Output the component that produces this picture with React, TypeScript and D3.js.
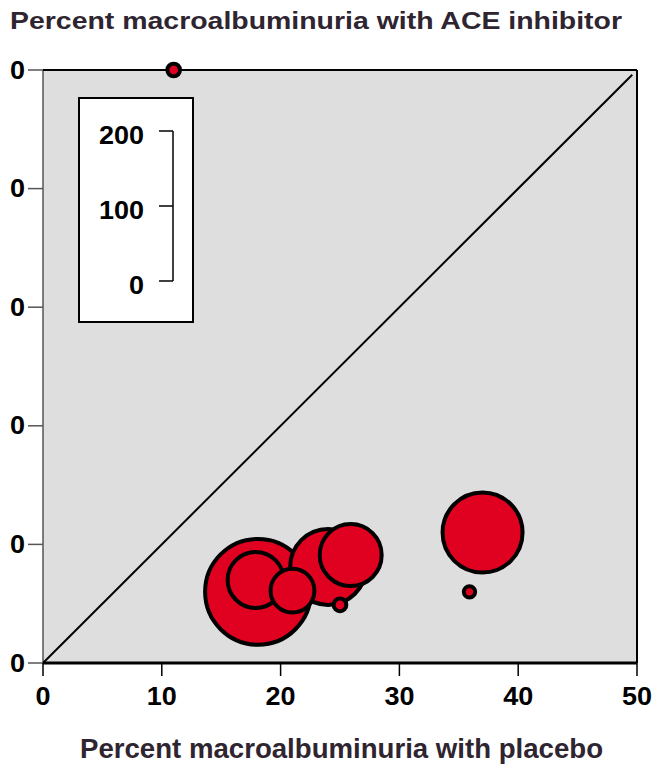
import React from "react";
import * as d3 from "d3";

const studyX = [11.0, 18.1, 24.0, 17.9, 21.0, 25.9, 25.0, 37.0, 35.9];
const studyY = [50.0, 6.0, 8.1, 7.0, 6.1, 9.1, 4.9, 11.0, 6.0];
const studyN = [5, 350, 180, 98, 60, 120, 5, 200, 4];
const xTicks = [0, 10, 20, 30, 40, 50];
const yTicks = [0, 10, 20, 30, 40, 50];
const yTickLabels = ["0", "0", "0", "0", "0", "0"];
const legendTicks = [0, 100, 200];
const title = "Percent macroalbuminuria with ACE inhibitor";
const xTitle = "Percent macroalbuminuria with placebo";

const W = 655;
const H = 764;
const left = 43, right = 637, top = 70, bottom = 663;
const FONT = "'Liberation Sans', Arial, sans-serif";
const RED = "#e0001f";
const CHAR_W = 15;

export default function App() {
  const x = d3.scaleLinear().domain([0, 50]).range([left, right]);
  const y = d3.scaleLinear().domain([0, 50]).range([bottom, top]);
  const r = d3.scaleSqrt().domain([0, 200]).range([0, 40]);
  const ly = d3.scaleLinear().domain([0, 200]).range([281, 131]);
  const pts = studyX.map((v, i) => ({ x: v, y: studyY[i], n: studyN[i] }));

  return (
    <svg width={W} height={H} style={{ position: "absolute", left: 0, top: 0 }} fontFamily={FONT}>
      <rect x={0} y={0} width={W} height={H} fill="#fff" />
      <text x={10} y={29} fontSize={24} fontWeight="bold" fill="#2e2530" textLength={612} lengthAdjust="spacingAndGlyphs">{title}</text>
      <rect x={left} y={top} width={right - left} height={bottom - top} fill="#dedede" />
      <line x1={left} y1={top} x2={left} y2={bottom} stroke="#555" strokeWidth={1.5} />
      <line x1={left} y1={top} x2={right} y2={top} stroke="#000" strokeWidth={2} />
      <line x1={right} y1={top} x2={right} y2={bottom} stroke="#000" strokeWidth={2} />
      <line x1={x(0)} y1={y(0)} x2={x(49.6)} y2={y(49.6)} stroke="#000" strokeWidth={2} />
      {yTicks.map((t, i) => (
        <g key={"y" + t}>
          <line x1={28} x2={left} y1={y(t)} y2={y(t)} stroke="#555" strokeWidth={1.5} />
          <text x={25} y={y(t) + 8.5} textAnchor="end" fontSize={25} fontWeight="bold"
            textLength={yTickLabels[i].length * CHAR_W} lengthAdjust="spacingAndGlyphs">{yTickLabels[i]}</text>
        </g>
      ))}
      {xTicks.map((t) => (
        <g key={"x" + t}>
          <line x1={x(t)} x2={x(t)} y1={bottom} y2={bottom + 13} stroke="#000" strokeWidth={1.5} />
          <text x={x(t)} y={705} textAnchor="middle" fontSize={25} fontWeight="bold"
            textLength={String(t).length * CHAR_W} lengthAdjust="spacingAndGlyphs">{t}</text>
        </g>
      ))}
      <line x1={left} x2={right} y1={bottom} y2={bottom} stroke="#000" strokeWidth={3} />
      <rect x={79} y={98} width={114} height={224} fill="#fff" stroke="#000" strokeWidth={2} />
      <line x1={173} x2={173} y1={ly(0)} y2={ly(200)} stroke="#000" strokeWidth={1.5} />
      {legendTicks.map((t) => (
        <g key={"l" + t}>
          <line x1={159} x2={173} y1={ly(t)} y2={ly(t)} stroke="#000" strokeWidth={1.5} />
          <text x={144} y={ly(t) + 12.5} textAnchor="end" fontSize={25} fontWeight="bold"
            textLength={String(t).length * CHAR_W} lengthAdjust="spacingAndGlyphs">{t}</text>
        </g>
      ))}
      {pts.map((p, i) => (
        <circle key={"c" + i} cx={x(p.x)} cy={y(p.y)} r={r(p.n)} fill={RED} stroke="#000" strokeWidth={4} />
      ))}
      <text x={80} y={758} fontSize={27} fontWeight="bold" fill="#2e2530" textLength={523} lengthAdjust="spacingAndGlyphs">{xTitle}</text>
    </svg>
  );
}
